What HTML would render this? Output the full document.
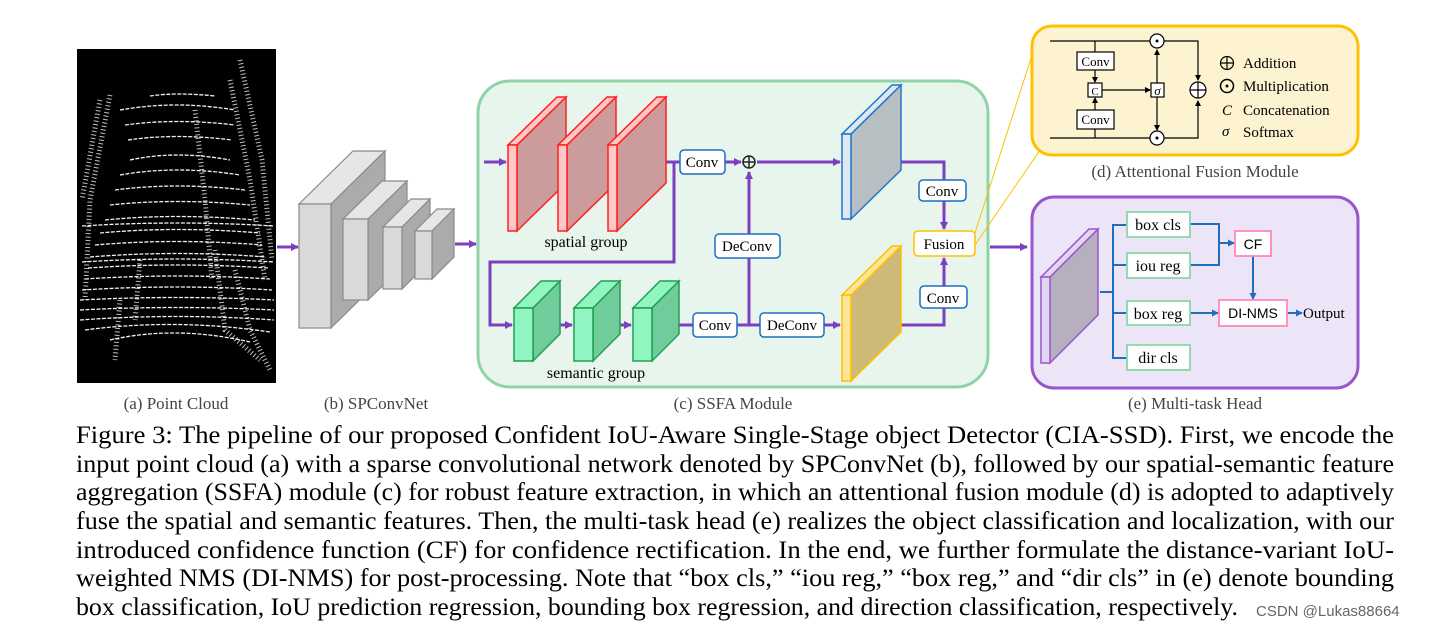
<!DOCTYPE html>
<html><head><meta charset="utf-8"><style>
html,body{margin:0;padding:0;background:#fff;}
svg{display:block;}
.cap{font-family:"Liberation Serif",serif;font-size:25px;fill:#000;}
.sub{font-family:"Liberation Serif",serif;font-size:17px;fill:#444;}
.bt{font-family:"Liberation Serif",serif;font-size:15px;fill:#000;}
.st{font-family:"Liberation Sans",sans-serif;font-size:14px;fill:#000;}
</style></head><body>
<svg width="1455" height="630" viewBox="0 0 1455 630" xmlns="http://www.w3.org/2000/svg">
<defs>
<marker id="pa" markerWidth="8" markerHeight="8" refX="7" refY="4" orient="auto" markerUnits="userSpaceOnUse"><path d="M0,0 L8,4 L0,8 z" fill="#7b3fbf"/></marker>
<marker id="ba" markerWidth="7" markerHeight="7" refX="6" refY="3.5" orient="auto" markerUnits="userSpaceOnUse"><path d="M0,0 L7,3.5 L0,7 z" fill="#1e6fbf"/></marker>
<marker id="ka" markerWidth="6" markerHeight="6" refX="5" refY="3" orient="auto" markerUnits="userSpaceOnUse"><path d="M0,0 L6,3 L0,6 z" fill="#000"/></marker>
</defs>

<!-- (a) point cloud -->
<rect x="77" y="49" width="199" height="334" fill="#000"/>
<g stroke="#fff" stroke-width="1.3" fill="none" stroke-dasharray="4 1.5" opacity="0.95">
<path d="M130,160 Q176,150 230,160"/><path d="M120,175 Q176,165 240,175"/>
<path d="M115,190 Q176,182 245,190"/><path d="M110,205 Q176,198 250,205"/>
<path d="M105,220 Q176,213 255,220"/><path d="M100,233 Q176,226 260,233"/>
<path d="M95,245 Q176,238 262,245"/><path d="M90,257 Q176,250 266,257"/>
<path d="M88,268 Q176,262 268,268"/><path d="M85,279 Q176,273 270,279"/>
<path d="M82,290 Q176,284 272,290"/><path d="M80,300 Q176,295 274,300"/>
<path d="M80,310 Q176,305 274,310"/><path d="M80,320 Q176,313 274,320"/>
<path d="M85,330 Q176,318 270,332"/><path d="M110,340 Q176,325 250,342"/>
<path d="M120,110 Q176,100 235,110"/><path d="M125,125 Q176,118 235,125"/>
<path d="M128,140 Q176,133 232,140"/><path d="M150,96 Q176,92 215,96"/>
<path d="M82,226 Q176,220 274,226"/><path d="M82,262 Q176,256 274,262"/>
</g>
<g stroke="#fff" stroke-width="5" fill="none" stroke-dasharray="1 2.5" opacity="0.75">
<path d="M110,95 L90,200 L85,300"/><path d="M230,80 L250,180 L265,280"/>
<path d="M240,60 L262,160 L272,260"/><path d="M215,250 L225,330 L260,360"/>
<path d="M120,300 L115,360"/><path d="M140,260 L135,320"/>
<path d="M235,270 L250,330 L270,370"/><path d="M100,100 L82,200"/>
<path d="M195,110 L205,200 L212,280"/>
</g>

<!-- arrows -->
<line x1="277" y1="247" x2="298" y2="247" stroke="#7b3fbf" stroke-width="3" marker-end="url(#pa)"/>
<line x1="455" y1="244" x2="476" y2="244" stroke="#7b3fbf" stroke-width="3" marker-end="url(#pa)"/>

<!-- (b) SPConvNet -->
<g stroke="#8a8a8a" stroke-width="1.2">
<polygon points="299,204 331,204 385,151 353,151" fill="#e6e6e6"/>
<polygon points="331,204 385,151 385,275 331,328" fill="#ababab"/>
<rect x="299" y="204" width="32" height="124" fill="#d9d9d9"/>
<polygon points="343,219 368,219 407,181 382,181" fill="#e6e6e6"/>
<polygon points="368,219 407,181 407,262 368,300" fill="#ababab"/>
<rect x="343" y="219" width="25" height="81" fill="#d9d9d9"/>
<polygon points="383,227 402,227 430,199 411,199" fill="#e6e6e6"/>
<polygon points="402,227 430,199 430,261 402,289" fill="#ababab"/>
<rect x="383" y="227" width="19" height="62" fill="#d9d9d9"/>
<polygon points="415,231 432,231 454,209 437,209" fill="#e6e6e6"/>
<polygon points="432,231 454,209 454,257 432,279" fill="#ababab"/>
<rect x="415" y="231" width="17" height="48" fill="#d9d9d9"/>
</g>

<!-- (c) SSFA -->
<rect x="478" y="81" width="510" height="306" rx="32" fill="#e8f5ec" stroke="#8fd4a8" stroke-width="3"/>
<g stroke="#7b3fbf" stroke-width="3" fill="none">
<line x1="484" y1="162" x2="506" y2="162" marker-end="url(#pa)"/>
<line x1="536" y1="162" x2="556" y2="162" marker-end="url(#pa)"/>
<line x1="586" y1="162" x2="606" y2="162" marker-end="url(#pa)"/>
<line x1="664" y1="162" x2="680" y2="162"/>
<line x1="725" y1="162" x2="741" y2="162" marker-end="url(#pa)"/>
<line x1="757" y1="162" x2="840" y2="162" marker-end="url(#pa)"/>
<polyline points="674,162 674,262 490,262 490,325 512,325" marker-end="url(#pa)"/>
<line x1="550" y1="325" x2="572" y2="325" marker-end="url(#pa)"/>
<line x1="610" y1="325" x2="631" y2="325" marker-end="url(#pa)"/>
<line x1="668" y1="325" x2="693" y2="325"/>
<line x1="737" y1="325" x2="760" y2="325"/>
<line x1="824" y1="325" x2="840" y2="325" marker-end="url(#pa)"/>
<line x1="749" y1="325" x2="749" y2="172" marker-end="url(#pa)"/>
<polyline points="901,162 944,162 944,180"/>
<line x1="944" y1="201" x2="944" y2="229" marker-end="url(#pa)"/>
<polyline points="901,325 944,325 944,308"/>
<line x1="944" y1="286" x2="944" y2="258" marker-end="url(#pa)"/>
<line x1="990" y1="247" x2="1027" y2="247" marker-end="url(#pa)"/>
</g>
<g stroke="#ff2020" stroke-width="1.5">
<polygon points="517,145 566,97 566,183 517,231" fill="#cc9b9b"/>
<polygon points="508,145 517,145 566,97 557,97" fill="#ffc8c8"/>
<rect x="508" y="145" width="9" height="86" fill="#ffc8c8"/>
<polygon points="567,145 616,97 616,183 567,231" fill="#cc9b9b"/>
<polygon points="558,145 567,145 616,97 607,97" fill="#ffc8c8"/>
<rect x="558" y="145" width="9" height="86" fill="#ffc8c8"/>
<polygon points="617,145 666,97 666,183 617,231" fill="#cc9b9b"/>
<polygon points="608,145 617,145 666,97 657,97" fill="#ffc8c8"/>
<rect x="608" y="145" width="9" height="86" fill="#ffc8c8"/>
</g>
<g stroke="#20a050" stroke-width="1.5">
<polygon points="514,308 533,308 560,281 541,281" fill="#90f5c0"/>
<polygon points="533,308 560,281 560,334 533,361" fill="#70cc9a"/>
<rect x="514" y="308" width="19" height="53" fill="#90f5c0"/>
<polygon points="574,308 593,308 620,281 601,281" fill="#90f5c0"/>
<polygon points="593,308 620,281 620,334 593,361" fill="#70cc9a"/>
<rect x="574" y="308" width="19" height="53" fill="#90f5c0"/>
<polygon points="633,308 652,308 679,281 660,281" fill="#90f5c0"/>
<polygon points="652,308 679,281 679,334 652,361" fill="#70cc9a"/>
<rect x="633" y="308" width="19" height="53" fill="#90f5c0"/>
</g>
<g stroke="#2277cc" stroke-width="1.5">
<polygon points="851,134 901,85 901,170 851,219" fill="#b8bfc2"/>
<polygon points="842,134 851,134 901,85 892,85" fill="#dde8f0"/>
<rect x="842" y="134" width="9" height="85" fill="#dde8f0"/>
</g>
<g stroke="#ffc000" stroke-width="1.5">
<polygon points="851,295 901,246 901,332 851,381" fill="#cdb978"/>
<polygon points="842,295 851,295 901,246 892,246" fill="#ffe59a"/>
<rect x="842" y="295" width="9" height="86" fill="#ffe59a"/>
</g>
<g fill="#fff" stroke="#1e6fbf" stroke-width="1.5">
<rect x="680" y="150" width="45" height="24" rx="4"/>
<rect x="715" y="234" width="65" height="24" rx="4"/>
<rect x="693" y="313" width="44" height="24" rx="4"/>
<rect x="760" y="313" width="64" height="24" rx="4"/>
<rect x="919" y="180" width="47" height="21" rx="4"/>
<rect x="920" y="286" width="47" height="22" rx="4"/>
</g>
<rect x="914" y="231" width="61" height="25" rx="4" fill="#fff" stroke="#ffc000" stroke-width="1.5"/>
<g class="bt" text-anchor="middle">
<text x="702" y="167">Conv</text>
<text x="747" y="251">DeConv</text>
<text x="715" y="330">Conv</text>
<text x="792" y="330">DeConv</text>
<text x="942" y="196">Conv</text>
<text x="943" y="303">Conv</text>
<text x="944" y="249">Fusion</text>
<text x="586" y="247" style="font-size:16px">spatial group</text>
<text x="596" y="378" style="font-size:16px">semantic group</text>
</g>
<circle cx="749" cy="162" r="6" fill="none" stroke="#222" stroke-width="1.5"/>
<path d="M743,162 H755 M749,156 V168" stroke="#222" stroke-width="1.5"/>

<line x1="975" y1="233" x2="1040" y2="30" stroke="#ffc000" stroke-width="1"/>
<line x1="975" y1="245" x2="1040" y2="150" stroke="#ffc000" stroke-width="1"/>

<!-- (d) -->
<rect x="1032" y="26" width="326" height="129" rx="20" fill="#fdf3d0" stroke="#ffc000" stroke-width="3"/>
<g stroke="#000" stroke-width="1.2" fill="none">
<polyline points="1050,41 1150,41"/><polyline points="1164,41 1198,41 1198,80" marker-end="url(#ka)"/>
<polyline points="1050,138 1150,138"/><polyline points="1164,138 1198,138 1198,101" marker-end="url(#ka)"/>
<line x1="1095" y1="41" x2="1095" y2="52"/>
<line x1="1095" y1="70" x2="1095" y2="82" marker-end="url(#ka)"/>
<line x1="1095" y1="138" x2="1095" y2="129"/>
<line x1="1095" y1="110" x2="1095" y2="98" marker-end="url(#ka)"/>
<line x1="1102" y1="90" x2="1150" y2="90" marker-end="url(#ka)"/>
<line x1="1157" y1="83" x2="1157" y2="50" marker-end="url(#ka)"/>
<line x1="1157" y1="97" x2="1157" y2="130" marker-end="url(#ka)"/>
</g>
<g fill="#fff" stroke="#000" stroke-width="1.2">
<rect x="1077" y="52" width="37" height="18"/><rect x="1077" y="110" width="37" height="19"/>
<rect x="1088" y="83" width="14" height="14"/><rect x="1151" y="83" width="13" height="14"/>
<circle cx="1157" cy="41" r="7"/><circle cx="1157" cy="138" r="7"/>
<circle cx="1198" cy="90" r="8"/>
</g>
<path d="M1190,90 H1206 M1198,82 V98" stroke="#000" stroke-width="1.2"/>
<circle cx="1157" cy="41" r="1.5"/><circle cx="1157" cy="138" r="1.5"/>
<g font-family="Liberation Serif,serif" font-size="13" text-anchor="middle">
<text x="1095.5" y="66">Conv</text><text x="1095.5" y="124">Conv</text>
<text x="1095" y="95" font-size="11">C</text><text x="1157.5" y="95" font-style="italic" font-size="13">σ</text>
</g>
<circle cx="1227" cy="63" r="6.5" fill="none" stroke="#000" stroke-width="1.2"/>
<path d="M1220.5,63 H1233.5 M1227,56.5 V69.5" stroke="#000" stroke-width="1.2"/>
<circle cx="1227" cy="86" r="6.5" fill="none" stroke="#000" stroke-width="1.5"/>
<circle cx="1227" cy="86" r="1.5"/>
<g font-family="Liberation Serif,serif" font-size="15">
<text x="1222" y="115" font-style="italic">C</text>
<text x="1222" y="136" font-style="italic">σ</text>
<text x="1243" y="68">Addition</text><text x="1243" y="91">Multiplication</text>
<text x="1243" y="115">Concatenation</text><text x="1243" y="137">Softmax</text>
</g>
<text class="sub" x="1195" y="177" text-anchor="middle">(d) Attentional  Fusion Module</text>

<!-- (e) -->
<rect x="1032" y="197" width="326" height="191" rx="22" fill="#ece4f7" stroke="#9955cc" stroke-width="3"/>
<g stroke="#9955cc" stroke-width="1.5">
<polygon points="1050,277 1098,229 1098,315 1050,363" fill="#b7aec0"/>
<polygon points="1041,277 1050,277 1098,229 1089,229" fill="#e0d6f0"/>
<rect x="1041" y="277" width="9" height="86" fill="#e0d6f0"/>
</g>
<g stroke="#1e6fbf" stroke-width="2" fill="none">
<line x1="1100" y1="292" x2="1113" y2="292"/>
<polyline points="1127,225 1113,225 1113,358 1127,358"/>
<line x1="1113" y1="265" x2="1127" y2="265"/><line x1="1113" y1="313" x2="1127" y2="313"/>
<polyline points="1190,224 1219,224 1219,265 1190,265"/>
<line x1="1219" y1="243" x2="1234" y2="243" marker-end="url(#ba)"/>
<line x1="1253" y1="256" x2="1253" y2="299" marker-end="url(#ba)"/>
<line x1="1190" y1="313" x2="1218" y2="313" marker-end="url(#ba)"/>
<line x1="1287" y1="313" x2="1302" y2="313" marker-end="url(#ba)"/>
</g>
<g fill="#fff" stroke="#88d8a8" stroke-width="1.8">
<rect x="1127" y="212" width="63" height="25"/><rect x="1127" y="253" width="63" height="25"/>
<rect x="1127" y="301" width="63" height="24"/><rect x="1127" y="345" width="63" height="25"/>
</g>
<g fill="#fff" stroke="#ff88bb" stroke-width="1.8">
<rect x="1235" y="231" width="36" height="25"/><rect x="1219" y="300" width="68" height="26"/>
</g>
<g class="bt" text-anchor="middle" style="font-size:16px">
<text x="1158" y="230">box cls</text><text x="1158" y="271">iou reg</text>
<text x="1158" y="319">box reg</text><text x="1158" y="363">dir cls</text>
</g>
<text class="st" x="1253" y="249" text-anchor="middle">CF</text>
<text class="st" x="1253" y="318" text-anchor="middle">DI-NMS</text>
<text class="bt" x="1303" y="318" style="font-size:15px">Output</text>

<g class="sub" text-anchor="middle">
<text x="176" y="409">(a) Point Cloud</text>
<text x="376" y="409">(b) SPConvNet</text>
<text x="733" y="409">(c) SSFA Module</text>
<text x="1195" y="409">(e) Multi-task Head</text>
</g>

<g class="cap">
<text x="76" y="443" textLength="1318" lengthAdjust="spacingAndGlyphs">Figure 3: The pipeline of our proposed Confident IoU-Aware Single-Stage object Detector (CIA-SSD). First, we encode the</text>
<text x="76" y="472" textLength="1318" lengthAdjust="spacingAndGlyphs">input point cloud (a) with a sparse convolutional network denoted by SPConvNet (b), followed by our spatial-semantic feature</text>
<text x="76" y="500" textLength="1318" lengthAdjust="spacingAndGlyphs">aggregation (SSFA) module (c) for robust feature extraction, in which an attentional fusion module (d) is adopted to adaptively</text>
<text x="76" y="529" textLength="1318" lengthAdjust="spacingAndGlyphs">fuse the spatial and semantic features. Then, the multi-task head (e) realizes the object classification and localization, with our</text>
<text x="76" y="558" textLength="1318" lengthAdjust="spacingAndGlyphs">introduced confidence function (CF) for confidence rectification. In the end, we further formulate the distance-variant IoU-</text>
<text x="76" y="586" textLength="1318" lengthAdjust="spacingAndGlyphs">weighted NMS (DI-NMS) for post-processing. Note that “box cls,” “iou reg,” “box reg,” and “dir cls” in (e) denote bounding</text>
<text x="76" y="615" textLength="1162" lengthAdjust="spacingAndGlyphs">box classification, IoU prediction regression, bounding box regression, and direction classification, respectively.</text>
</g>
<text x="1256" y="616" font-family="Liberation Sans,sans-serif" font-size="15" fill="#666">CSDN @Lukas88664</text>
</svg>
</body></html>
